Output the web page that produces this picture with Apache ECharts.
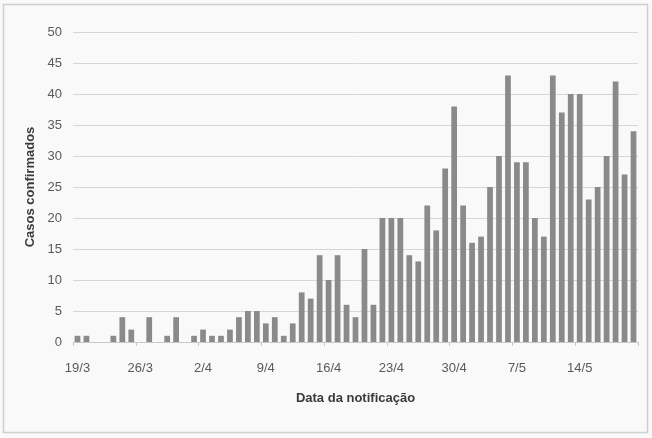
<!DOCTYPE html>
<html>
<head>
<meta charset="utf-8">
<script src="https://cdn.jsdelivr.net/npm/echarts@6/dist/echarts.min.js"></script>
<style>
  html, body { margin: 0; padding: 0; background: #ffffff; }
  #chart { width: 652px; height: 438px; }
</style>
</head>
<body>
<div id="chart"></div>
<script>
// Daily confirmed cases by notification date, 19/3 to 20/5
const startDay = { day: 19, month: 3 };
const dayCount = 63;
const casos = [
  1, 1, 0, 0, 1, 4, 2, 0, 4, 0, 1, 4, 0,
  1, 2, 1, 1, 2, 4, 5, 5, 3, 4, 1, 3, 8, 7, 14, 10, 14, 6, 4, 15, 6, 20, 20, 20, 14, 13, 22, 18, 28, 38,
  22, 16, 17, 25, 30, 43, 29, 29, 20, 17, 43, 37, 40, 40, 23, 25, 30, 42, 27, 34
];
const yTicks = [0, 5, 10, 15, 20, 25, 30, 35, 40, 45, 50];
const yTitle = 'Casos confirmados';
const xTitle = 'Data da notificação';

// Build "d/m" labels for each day
const monthLengths = { 3: 31, 4: 30, 5: 31 };
const datas = [];
let d = startDay.day, m = startDay.month;
for (let i = 0; i < dayCount; i++) {
  datas.push(d + '/' + m);
  d++;
  if (d > monthLengths[m]) { d = 1; m++; }
}

const font = '"Liberation Sans Narrow", "Liberation Sans", Arial, sans-serif';
const chart = echarts.init(document.getElementById('chart'), null, { renderer: 'canvas' });

chart.setOption({
  backgroundColor: '#f9f9f9',
  animation: false,
  graphic: [
    {
      type: 'rect',
      shape: { x: 3.5, y: 4.5, width: 644, height: 428 },
      style: { fill: 'none', stroke: '#cfcfcf', lineWidth: 1.5 },
      silent: true
    }
  ],
  grid: { left: 73, right: 14, top: 32, bottom: 96 },
  xAxis: {
    type: 'category',
    data: datas,
    name: xTitle,
    nameLocation: 'middle',
    nameGap: 50,
    nameTextStyle: { fontFamily: font, fontSize: 13, fontWeight: 'bold', color: '#3a3a3a' },
    axisLine: { show: true, lineStyle: { color: '#c8c8c8', width: 1 } },
    axisTick: { show: true, alignWithLabel: false, interval: 6, length: 4, lineStyle: { color: '#c8c8c8' } },
    axisLabel: {
      interval: 6,
      margin: 20,
      fontFamily: font,
      fontSize: 13,
      color: '#5a5a5a'
    }
  },
  yAxis: {
    type: 'value',
    min: yTicks[0],
    max: yTicks[yTicks.length - 1],
    interval: yTicks[1] - yTicks[0],
    name: yTitle,
    nameLocation: 'middle',
    nameGap: 36,
    nameRotate: 90,
    nameTextStyle: { fontFamily: font, fontSize: 13, fontWeight: 'bold', color: '#3a3a3a' },
    axisLine: { show: false },
    axisTick: { show: false },
    axisLabel: { margin: 11, fontFamily: font, fontSize: 13, color: '#5a5a5a' },
    splitLine: { show: true, lineStyle: { color: '#d6d6d6', width: 1 } }
  },
  series: [
    {
      type: 'bar',
      data: casos,
      barCategoryGap: '36%',
      itemStyle: { color: '#8a8a8a' },
      emphasis: { disabled: true }
    }
  ]
});
</script>
</body>
</html>
